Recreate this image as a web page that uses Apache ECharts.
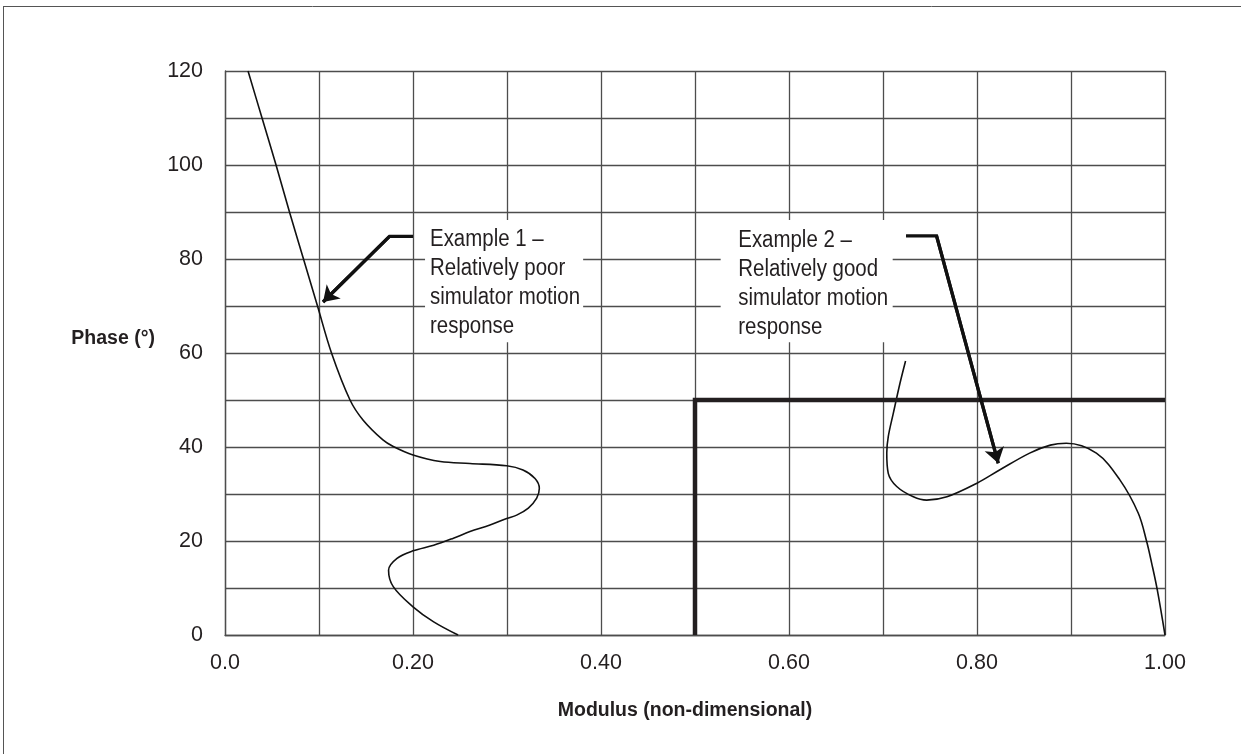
<!DOCTYPE html>
<html>
<head>
<meta charset="utf-8">
<script src="https://cdn.jsdelivr.net/npm/echarts@6/dist/echarts.min.js"></script>
<style>
html,body{margin:0;padding:0;background:#fff;}
#chart{width:1241px;height:754px;}
</style>
</head>
<body>
<div id="chart"></div>
<script>
// ---- data ----
const xTickValues = [0, 0.2, 0.4, 0.6, 0.8, 1.0];
const xTickLabels = ['0.0', '0.20', '0.40', '0.60', '0.80', '1.00'];
const yTickValues = [0, 20, 40, 60, 80, 100, 120];
const yTickLabels = ['0', '20', '40', '60', '80', '100', '120'];

// Example 1 curve: [modulus, phase]
const example1 = [
  [0.0245,120],[0.0394,110],[0.0543,100],[0.0686,90],[0.0835,80],[0.0984,70],
  [0.1133,60],[0.133,50],[0.147,45.7],[0.168,41.5],[0.179,40.1],[0.2,38.3],
  [0.229,36.9],[0.2606,36.5],[0.2997,36.0],[0.317,35.1],[0.3298,33.3],[0.3344,31.2],
  [0.3316,29.1],[0.3227,27.0],[0.3103,25.5],[0.2997,24.8],[0.2819,23.4],[0.2606,22.0],
  [0.243,20.6],[0.222,19.1],[0.2,17.9],[0.183,16.3],[0.174,13.8],[0.179,10.3],
  [0.2,6.0],[0.222,2.8],[0.248,0]
];
// Example 2 curve
const example2 = [
  [0.724,58.3],[0.718,53.5],[0.711,47.2],[0.7056,42.2],[0.704,38.7],[0.7056,34.4],
  [0.7146,31.6],[0.7323,29.4],[0.7465,28.7],[0.768,29.4],[0.80,32.3],[0.824,35.1],
  [0.856,38.7],[0.878,40.4],[0.895,40.8],[0.927,38.7],[0.952,33.0],[0.9716,25.9],
  [0.9805,19.9],[0.9858,15.3],[0.9918,9.6],[1.0,0]
];
// Boundary (thick line)
const boundary = [[0.5,0],[0.5,50],[1.0,50]];

// Arrows (polyline; last point = arrowhead centre)
const arrow1 = [[0.2,84.8],[0.175,84.8],[0.1043,70.85]];
const arrow2 = [[0.7245,84.9],[0.757,84.9],[0.8226,36.55]];

// Annotation boxes [x0,y0,x1,y1] and texts
const box1 = [0.2128,88.3,0.381,62.3];
const box2 = [0.5273,88.3,0.7103,62.3];
const text1Anchor = [0.2181,87.2];
const text2Anchor = [0.546,87.0];
const text1 = 'Example 1 –\nRelatively poor\nsimulator motion\nresponse';
const text2 = 'Example 2 –\nRelatively good\nsimulator motion\nresponse';

// ---- chart ----
const FONT = '"Liberation Sans", Arial, sans-serif';
const TXT = '#231f20';
const GRID = '#4d4d4d';
const chart = echarts.init(document.getElementById('chart'), null, {renderer:'canvas'});

function fmtX(v){
  for (let i=0;i<xTickValues.length;i++){ if (Math.abs(v-xTickValues[i])<1e-6) return xTickLabels[i]; }
  return '';
}
function fmtY(v){
  for (let i=0;i<yTickValues.length;i++){ if (Math.abs(v-yTickValues[i])<1e-6) return yTickLabels[i]; }
  return '';
}

const frame = [
  {type:'line', shape:{x1:3,y1:6.5,x2:1241,y2:6.5}, style:{stroke:'#555',lineWidth:1}, silent:true},
  {type:'line', shape:{x1:3.5,y1:6,x2:3.5,y2:754}, style:{stroke:'#555',lineWidth:1}, silent:true}
];

const option = {
  backgroundColor:'#fff',
  animation:false,
  grid:{left:225, right:76, top:71, bottom:119},
  graphic:frame,
  xAxis:{
    type:'value', min:0, max:1, interval:0.1,
    name:'Modulus (non-dimensional)', nameLocation:'middle', nameGap:66,
    nameTextStyle:{fontFamily:FONT, fontWeight:'bold', fontSize:19.5, color:TXT, verticalAlign:'top', padding:[0,20,0,0]},
    axisLine:{show:true, lineStyle:{color:GRID,width:1.3}},
    axisTick:{show:false},
    axisLabel:{formatter:fmtX, fontFamily:FONT, fontSize:21.5, color:TXT, margin:17},
    splitLine:{show:true, lineStyle:{color:GRID,width:1.3}}
  },
  yAxis:{
    type:'value', min:0, max:120, interval:10,
    name:'Phase (°)', nameLocation:'middle', nameGap:70, nameRotate:0,
    nameTextStyle:{fontFamily:FONT, fontWeight:'bold', fontSize:19.5, color:TXT, align:'right', verticalAlign:'bottom', padding:[0,0,4,0]},
    axisLine:{show:true, lineStyle:{color:GRID,width:1.3}},
    axisTick:{show:false},
    axisLabel:{formatter:fmtY, fontFamily:FONT, fontSize:21.5, color:TXT, margin:22},
    splitLine:{show:true, lineStyle:{color:GRID,width:1.3}}
  },
  series:[
    {
      type:'line', data:[], silent:true, z:3,
      markArea:{
        silent:true,
        itemStyle:{color:'#fff', opacity:1},
        data:[
          [{coord:[box1[0],box1[1]]},{coord:[box1[2],box1[3]]}],
          [{coord:[box2[0],box2[1]]},{coord:[box2[2],box2[3]]}]
        ]
      }
    },
    {
      type:'line', data:example1, smooth:0.35, symbol:'none', z:5,
      lineStyle:{color:'#111', width:1.6}
    },
    {
      type:'line', data:example2, smooth:0.35, symbol:'none', z:5,
      lineStyle:{color:'#111', width:1.6}
    },
    {
      type:'line', data:boundary, symbol:'none', z:5,
      lineStyle:{color:'#231f20', width:4.5, join:'miter'}
    },
    {
      type:'line', data:arrow1, symbol:'none', z:7,
      lineStyle:{color:'#111', width:3.2, join:'miter'}
    },
    {
      type:'line', data:arrow2, symbol:'none', z:7,
      lineStyle:{color:'#111', width:3.2, join:'miter'}
    },
    {
      type:'lines', coordinateSystem:'cartesian2d', z:8,
      symbol:['none','arrow'], symbolSize:15,
      lineStyle:{color:'#111', width:3.2, opacity:1},
      data:[
        {coords:[arrow1[arrow1.length-2], arrow1[arrow1.length-1]]},
        {coords:[arrow2[arrow2.length-2], arrow2[arrow2.length-1]]}
      ]
    }
  ]
};
chart.setOption(option);

// Annotation texts placed through the chart's own scales (narrowed to match condensed face)
function annText(anchor, txt){
  const p = chart.convertToPixel({xAxisIndex:0, yAxisIndex:0}, anchor);
  return {
    type:'text', x:p[0], y:p[1], scaleX:0.87, z:100, silent:true,
    style:{text:txt, fill:TXT, fontFamily:'"Liberation Sans", Arial, sans-serif', fontSize:23.5,
      lineHeight:29, align:'left', verticalAlign:'top'}
  };
}
chart.setOption({graphic: frame.concat([annText(text1Anchor, text1), annText(text2Anchor, text2)])});
</script>
</body>
</html>
